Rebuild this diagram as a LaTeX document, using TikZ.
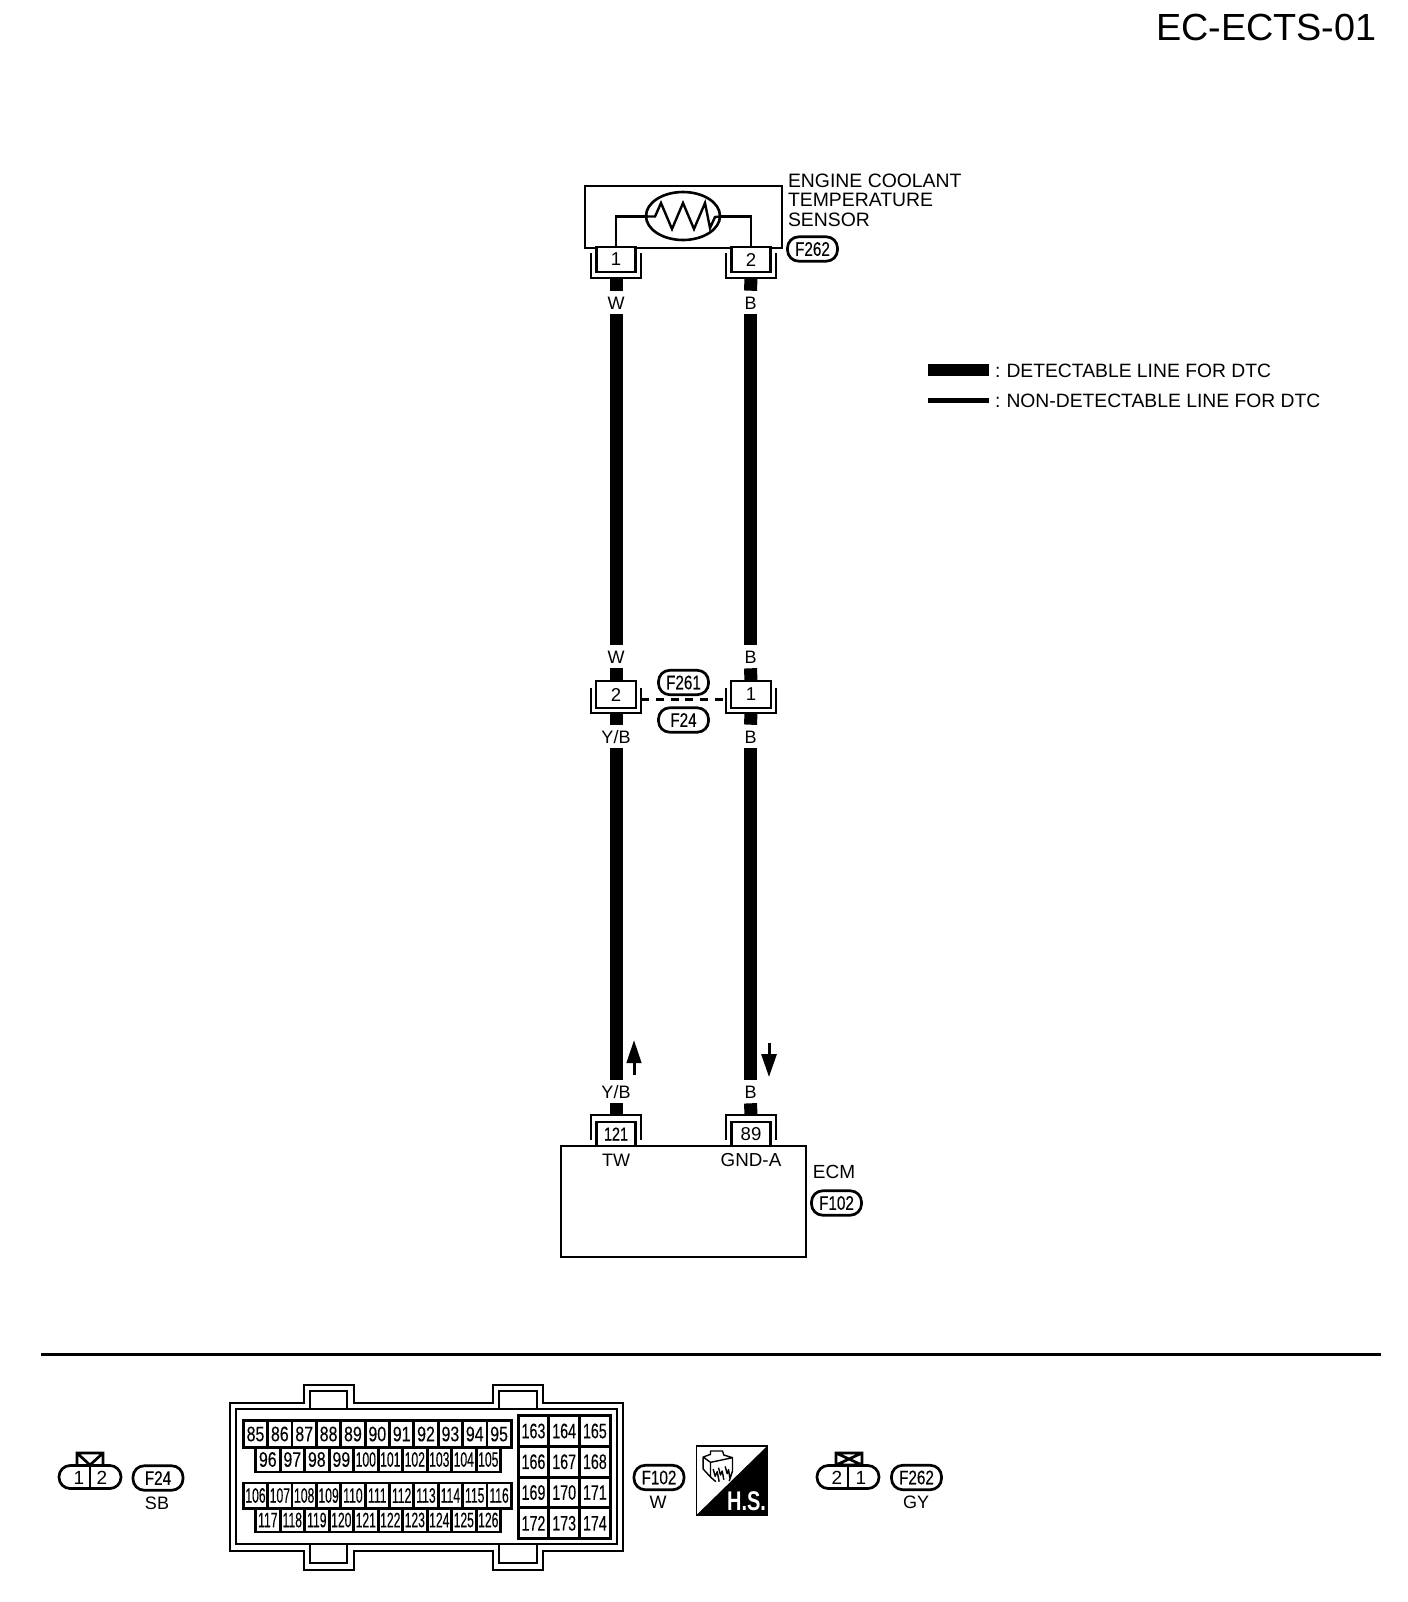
\documentclass[tikz,border=0pt]{standalone}
\usepackage{fontspec}
\usetikzlibrary{arrows.meta,shapes.geometric}
\setmainfont{Liberation Sans}
\newfontfamily\ovalfam[FakeStretch=0.78,FakeBold=0.2]{Liberation Sans}
\newfontfamily\cellafam[FakeStretch=0.76,FakeBold=0.2]{Liberation Sans}
\newfontfamily\cellbfam[FakeStretch=0.58,FakeBold=0.2]{Liberation Sans}
\newfontfamily\cellcfam[FakeStretch=0.68,FakeBold=0.2]{Liberation Sans}
\newfontfamily\hsfam[FakeStretch=0.74]{Liberation Sans}
\newcommand\fsz[1]{\fontsize{#1}{#1}\selectfont}
\tikzset{
  every node/.style={inner sep=0pt,outer sep=0pt},
  thickwire/.style={line width=6.5pt,line cap=butt},
  boxline/.style={line width=1.4pt,line join=miter},
  pinbox/.style={draw,line width=1.4pt,fill=white,minimum width=19.5pt,minimum height=12.5pt,font=\fsz{9.3}},
  midbox/.style={pinbox,minimum width=20pt,minimum height=13.5pt},
  brk/.style={minimum width=25pt,minimum height=12.5pt},
  wirelabel/.style={minimum height=11.8pt,text height=6.5pt,text depth=0pt,font=\fsz{9}},
  plain/.style={font=\fsz{9.5}},
  oval/.style={draw,line width=1.35pt,rounded corners=5.6pt,minimum width=25pt,minimum height=12.2pt,font=\ovalfam\fsz{9.8}},
  pill/.style={draw,line width=1.35pt,rounded corners=5.6pt,minimum width=31pt,minimum height=11.5pt},
  cella/.style={draw,line width=1.4pt,minimum width=12.2pt,font=\cellafam\fsz{10.5}},
  cellb/.style={draw,line width=1.4pt,minimum width=15.4pt,minimum height=15.3pt,font=\cellcfam\fsz{10.5}},
  legend/.style={anchor=west,font=\fsz{9.65}},
  shell/.style={line width=1.4pt,line join=miter},
}
\begin{document}
\begin{tikzpicture}[x=0.5pt,y=-0.5pt]
\useasboundingbox (0,0) rectangle (1408,1602);

% title
\node[anchor=west,font=\fsz{18.9}] (title) at (1156,27) {EC-ECTS-01};

% sensor
\node[draw,line width=1.4pt,minimum width=98.5pt,minimum height=31pt] (sensor) at (683.5,217) {};
\node[draw,ellipse,line width=1.3pt,minimum width=37pt,minimum height=24pt] (therm) at (683,216) {};
\coordinate (zl) at (648,216.5);
\coordinate (zr) at (720,216.5);
\draw[line width=1.2pt,line join=miter] (zl) -- (655,216.5) -- (661,203) -- (672,229) -- (683,203) -- (694,229) -- (705,203) -- (710,228) -- (715,217) -- (zr);
\node[pinbox] (s1) at (616,259.5) {\raisebox{-0.4pt}{1}};
\node[pinbox] (s2) at (751,259.5) {\raisebox{-0.4pt}{2}};
\draw[line width=1.2pt,line join=miter] (s1.north) -- (616,216.5) -- (zl);
\draw[line width=1.2pt,line join=miter] (s2.north) -- (751,216.5) -- (zr);
\node[anchor=west,align=left,font=\fontsize{9.7}{9.75}\selectfont] (sensorname) at (788,200) {ENGINE COOLANT\\TEMPERATURE\\SENSOR};
\node[oval] (f262a) at (812.5,249) {F262};

\node[brk] (bs1) at (616,265.5) {};
\node[brk] (bs2) at (751,265.5) {};
\draw[boxline] (bs1.north west) -- (bs1.south west) -- (bs1.south east) -- (bs1.north east);
\draw[boxline] (bs2.north west) -- (bs2.south west) -- (bs2.south east) -- (bs2.north east);

% wire labels
\node[wirelabel] (w1) at (616,302.5) {W};
\node[wirelabel] (b1) at (750.5,302.5) {B};
\node[wirelabel] (w2) at (616,656.5) {W};
\node[wirelabel] (b2) at (750.5,656.5) {B};
\node[wirelabel] (yb1) at (616,736.5) {Y/B};
\node[wirelabel] (b3) at (750.5,736.5) {B};
\node[wirelabel] (yb2) at (616,1091.5) {Y/B};
\node[wirelabel] (b4) at (750.5,1091.5) {B};

% mid connectors
\node[midbox] (m1) at (616,694.5) {2};
\node[midbox] (m2) at (751,694.5) {1};
\node[brk] (bm1) at (616,700.5) {};
\node[brk] (bm2) at (751,700.5) {};
\draw[boxline] (bm1.north west) -- (bm1.south west) -- (bm1.south east) -- (bm1.north east);
\draw[boxline] (bm2.north west) -- (bm2.south west) -- (bm2.south east) -- (bm2.north east);
\draw[line width=1.5pt,dash pattern=on 4pt off 3.4pt] ([yshift=0.75pt]bm1.east) -- ([yshift=0.75pt]bm2.west);
\node[oval] (f261) at (683.5,682.5) {F261};
\node[oval] (f24a) at (683.5,720) {F24};

% ECM
\node[draw,line width=1.4pt,minimum width=122.5pt,minimum height=55.5pt] (ecm) at (683.5,1201.5) {};
\node[pinbox,minimum height=12pt,font=\ovalfam\fsz{9.3}] (e1) at (616,1134) {\raisebox{-1pt}{121}};
\node[pinbox,minimum height=12pt] (e2) at (751,1134) {\raisebox{-1pt}{89}};
\node[brk] (be1) at (616,1127.5) {};
\node[brk] (be2) at (751,1127.5) {};
\draw[boxline] (be1.south west) -- (be1.north west) -- (be1.north east) -- (be1.south east);
\draw[boxline] (be2.south west) -- (be2.north west) -- (be2.north east) -- (be2.south east);
\node[font=\fsz{9}] (tw) at (616,1160) {TW};
\node[font=\fsz{9.4}] (gnd) at (751,1160) {GND-A};
\node[plain] (ecmname) at (834,1172) {ECM};
\node[oval] (f102a) at (836.5,1203) {F102};

% wires
\draw[thickwire] (bs1.south) -- (w1.north);
\draw[thickwire] (bs2.south) -- (b1.north);
\draw[thickwire] (w1.south) -- (w2.north);
\draw[thickwire] (b1.south) -- (b2.north);
\draw[thickwire] (w2.south) -- (m1.north);
\draw[thickwire] (b2.south) -- (m2.north);
\draw[thickwire] (bm1.south) -- (yb1.north);
\draw[thickwire] (bm2.south) -- (b3.north);
\draw[thickwire] (yb1.south) -- (yb2.north);
\draw[thickwire] (b3.south) -- (b4.north);
\draw[thickwire] (yb2.south) -- (be1.north);
\draw[thickwire] (b4.south) -- (be2.north);

% direction arrows
\coordinate (au1) at (634,1075);
\coordinate (au2) at (634,1040);
\coordinate (ad1) at (769,1043);
\coordinate (ad2) at (769,1077);
\draw[line width=1.5pt,-{Triangle[length=11.5pt,width=7.2pt]}] (au1) -- (au2);
\draw[line width=1.5pt,-{Triangle[length=11.5pt,width=7.5pt]}] (ad1) -- (ad2);

% legend
\coordinate (l1a) at (928,370);
\coordinate (l1b) at (989,370);
\coordinate (l2a) at (928,400.5);
\coordinate (l2b) at (989,400.5);
\draw[line width=6pt] (l1a) -- (l1b);
\draw[line width=2.7pt] (l2a) -- (l2b);
\node[legend] (lt1) at (995,371) {:\hspace{-0.5pt} DETECTABLE LINE FOR DTC};
\node[legend] (lt2) at (995,401) {:\hspace{-0.5pt} NON-DETECTABLE LINE FOR DTC};

% separator
\coordinate (sepa) at (41,1354.5);
\coordinate (sepb) at (1381,1354.5);
\draw[line width=1.6pt] (sepa) -- (sepb);

% connector F24
\node[pill] (p1) at (90,1477) {};
\draw[line width=1.35pt] (p1.north) -- (p1.south);
\node[font=\fsz{9.5}] (p1a) at (79,1477.5) {1};
\node[font=\fsz{9.5}] (p1b) at (102,1477.5) {2};
\draw[line width=1.35pt] (77,1465) -- (77,1453) -- (103,1453) -- (103,1465) (77,1453) -- (90,1465) -- (103,1453);
\node[oval] (f24b) at (158,1478) {F24};
\node[font=\fsz{9}] (sb) at (157,1503) {SB};

% big connector body
\draw[shell] (230,1403) -- (304,1403) -- (304,1385) -- (354,1385) -- (354,1403) -- (493,1403) -- (493,1385) -- (543,1385) -- (543,1403) -- (623,1403) -- (623,1551) -- (543,1551) -- (543,1570) -- (493,1570) -- (493,1551) -- (354,1551) -- (354,1570) -- (304,1570) -- (304,1551) -- (230,1551) -- cycle;
\draw[shell] (236,1409) rectangle (617,1544);
\draw[shell] (310,1409) -- (310,1391) -- (347,1391) -- (347,1409);
\draw[shell] (499,1409) -- (499,1391) -- (537,1391) -- (537,1409);
\draw[shell] (310,1544) -- (310,1563) -- (347,1563) -- (347,1544);
\draw[shell] (499,1544) -- (499,1563) -- (537,1563) -- (537,1544);

\foreach \n [count=\i from 0] in {85,86,87,88,89,90,91,92,93,94,95}
  \node[cella,minimum height=13.3pt] (c\n) at (\i*24.36+255.5,1434) {\n};
\foreach \n [count=\i from 0] in {96,97,98,99,100,101,102,103,104,105}
  \node[cella,minimum height=12.5pt] (c\n) at (\i*24.5+267.8,1459.5) {\ifnum\n<100 \else\cellbfam\fi\n};
\foreach \n [count=\i from 0] in {106,107,108,109,110,111,112,113,114,115,116}
  \node[cella,minimum height=12.6pt,font=\cellbfam\fsz{10.5}] (c\n) at (\i*24.36+255.5,1495.5) {\n};
\foreach \n [count=\i from 0] in {117,118,119,120,121,122,123,124,125,126}
  \node[cella,minimum height=12pt,font=\cellbfam\fsz{10.5}] (c\n) at (\i*24.5+267.8,1520) {\n};
\foreach \n [count=\i from 0] in {163,164,165,166,167,168,169,170,171,172,173,174}{
  \pgfmathtruncatemacro\col{mod(\i,3)}
  \pgfmathtruncatemacro\row{floor(\i/3)}
  \node[cellb] (c\n) at (\col*30.7+533.5,\row*30.75+1431) {\n};
}

% F102 tag
\node[oval] (f102b) at (659,1477.5) {F102};
\node[font=\fsz{9}] (wb) at (658,1502) {W};

% H.S. symbol
\begin{scope}[shift={(696.5,1441)},x=0.1667pt,y=-0.1667pt]
  \draw[line width=0.9pt] (0,15) rectangle (212,222);
  \fill (212,15) -- (212,222) -- (0,222) -- cycle;
  \draw[line width=0.7pt,line join=round]
    (20,48) -- (20,84) -- (42,108) -- (42,64) -- cycle
    (20,48) -- (42,40) -- (42,30) -- (78,30) -- (82,42) -- (108,50) -- (108,90) -- (98,120)
    (42,64) -- (108,50)
    (42,108) -- (58,122)
    (50,84) -- (56,106) -- (62,92) -- (68,122)
    (66,80) -- (72,102) -- (77,90) -- (82,116)
    (86,76) -- (92,98) -- (96,86) -- (100,110);
  \node[text=white,font=\hsfam\bfseries\fsz{13.5}] (hs) at (150,180) {H.S.};
\end{scope}

% connector F262
\node[pill] (p2) at (848,1477) {};
\draw[line width=1.35pt] (p2.north) -- (p2.south);
\node[font=\fsz{9.5}] (p2a) at (837,1477.5) {2};
\node[font=\fsz{9.5}] (p2b) at (861,1477.5) {1};
\draw[line width=1.35pt] (836,1453) rectangle (862,1465) (836,1453) -- (862,1465) (836,1465) -- (862,1453);
\node[oval] (f262b) at (916.5,1477.5) {F262};
\node[font=\fsz{9}] (gy) at (916,1502) {GY};
\end{tikzpicture}
\end{document}
